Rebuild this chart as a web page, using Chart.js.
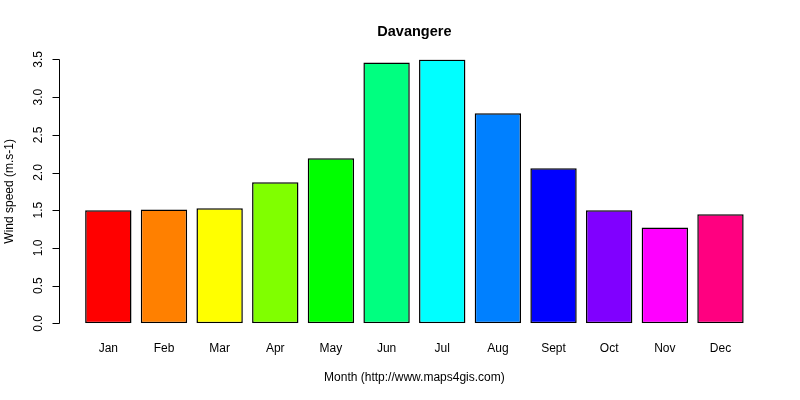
<!DOCTYPE html>
<html>
<head>
<meta charset="utf-8">
<script src="https://cdn.jsdelivr.net/npm/chart.js@4/dist/chart.umd.min.js"></script>
<style>
  html, body { margin: 0; padding: 0; background: #fff; }
  #wrap { width: 800px; height: 400px; }
</style>
</head>
<body>
<div id="wrap"><canvas id="windChart" width="800" height="400"></canvas></div>
<script>
"use strict";

// Datos
const months = ["Jan", "Feb", "Mar", "Apr", "May", "Jun", "Jul", "Aug", "Sept", "Oct", "Nov", "Dec"];
const windSpeed = [1.50, 1.51, 1.525, 1.87, 2.19, 3.46, 3.50, 2.785, 2.055, 1.50, 1.27, 1.445];
const barColors = ["#FF0000", "#FF8000", "#FFFF00", "#80FF00", "#00FF00", "#00FF80",
                   "#00FFFF", "#0080FF", "#0000FF", "#8000FF", "#FF00FF", "#FF0080"];
const yTicks = [0, 0.5, 1, 1.5, 2, 2.5, 3, 3.5];

const FONT = "'Liberation Sans', Arial, sans-serif";

// Eje Y al estilo R: separado del área de barras
const rAxisPlugin = {
  id: "rAxis",
  afterDraw(chart) {
    const { ctx } = chart;
    const y = chart.scales.y;
    const axisX = 59.5;
    const top = y.getPixelForValue(yTicks[yTicks.length - 1]);
    const bottom = y.getPixelForValue(yTicks[0]);

    ctx.save();
    ctx.strokeStyle = "#000";
    ctx.lineWidth = 1;
    ctx.beginPath();
    ctx.moveTo(axisX, Math.round(top) + 0.5);
    ctx.lineTo(axisX, Math.round(bottom) + 0.5);
    yTicks.forEach((v) => {
      const py = Math.round(y.getPixelForValue(v)) + 0.5;
      ctx.moveTo(axisX, py);
      ctx.lineTo(axisX - 7, py);
    });
    ctx.stroke();

    ctx.fillStyle = "#000";
    ctx.font = "12px " + FONT;
    ctx.textAlign = "center";
    ctx.textBaseline = "middle";
    yTicks.forEach((v) => {
      const py = y.getPixelForValue(v);
      ctx.save();
      ctx.translate(38.5, py);
      ctx.rotate(-Math.PI / 2);
      ctx.fillText(v.toFixed(1), 0, 0);
      ctx.restore();
    });

    // Título del eje Y
    ctx.save();
    ctx.translate(10, (top + bottom) / 2);
    ctx.rotate(-Math.PI / 2);
    ctx.fillText("Wind speed (m.s-1)", 0, 0);
    ctx.restore();
    ctx.restore();
  },
};

const ctx = document.getElementById("windChart").getContext("2d");
new Chart(ctx, {
  type: "bar",
  data: {
    labels: months,
    datasets: [
      {
        label: "Wind speed",
        data: windSpeed,
        backgroundColor: barColors,
        borderColor: "#000",
        borderWidth: 1.5,
        borderSkipped: false,
        categoryPercentage: 1,
        barPercentage: 1 / 1.2,
      },
    ],
  },
  options: {
    responsive: false,
    animation: false,
    devicePixelRatio: 1,
    layout: { padding: { left: 80.5, right: 51.7, top: 0, bottom: 0 } },
    plugins: {
      legend: { display: false },
      tooltip: { enabled: false },
      title: {
        display: true,
        text: "Davangere",
        color: "#000",
        font: { family: FONT, size: 14.5, weight: "bold" },
        padding: { top: 23, bottom: 19 },
      },
    },
    scales: {
      x: {
        grid: { display: false, drawTicks: false },
        border: { display: false },
        ticks: { color: "#000", font: { family: FONT, size: 12 }, padding: 18 },
        title: {
          display: true,
          text: "Month (http://www.maps4gis.com)",
          color: "#000",
          font: { family: FONT, size: 12 },
          padding: { top: 14.4, bottom: 15.5 },
        },
        afterFit(scale) {
          scale.height = 76.7;
        },
      },
      y: {
        display: false,
        min: 0,
        max: 3.5,
      },
    },
  },
  plugins: [rAxisPlugin],
});
</script>
</body>
</html>
